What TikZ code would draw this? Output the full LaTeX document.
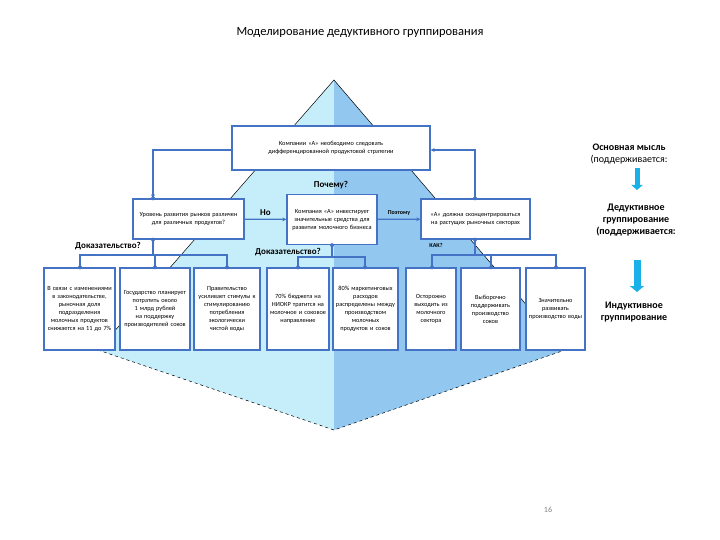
\documentclass[tikz,border=0pt]{standalone}
\usepackage{fontspec}
\setmainfont{Carlito}
\usetikzlibrary{arrows.meta}
\definecolor{ln}{HTML}{4472C4}
\definecolor{lface}{HTML}{C6EEFA}
\definecolor{rface}{HTML}{92C8F0}
\definecolor{arr}{HTML}{1AB0E8}
\begin{document}
\begin{tikzpicture}[x=1pt,y=-1pt,
  bx/.style={draw=ln,line width=1.3pt,fill=white,align=center,inner sep=1pt,font=\fontsize{6.3}{8}\selectfont},
  cn/.style={ln,line width=1.3pt},
  ar/.style={cn,-{Stealth[length=4pt,width=4pt]}},
  dt/.style={circle,fill=ln,inner sep=0pt,minimum size=3.5pt},
  lb/.style={black,font=\bfseries\fontsize{9}{10}\selectfont},
  rt/.style={font=\bfseries\fontsize{10}{12}\selectfont,align=center}]
\useasboundingbox (0,0) rectangle (720,540);
% octahedron
\fill[lface] (334,80) -- (98,350) -- (334,430) -- cycle;
\fill[rface] (334,80) -- (565,350) -- (334,430) -- cycle;
\draw[black,line width=0.5pt] (98,350) -- (334,80) -- (565,350);
\draw[black,line width=0.5pt,dashed] (98,350) -- (334,430) -- (565,350);
\node[font=\fontsize{12.5}{14}\selectfont] (title) at (360,33) {Моделирование дедуктивного группирования};
% boxes
\node[bx,minimum width=198pt,minimum height=44pt,text width=170pt] (top) at (331,148) {Компании «А» необходимо следовать дифференцированной продуктовой стратегии};
\node[bx,minimum width=111pt,minimum height=40pt,text width=104pt] (ml) at (188.5,219) {Уровень развития рынков различен для различных продуктов?};
\node[bx,minimum width=90pt,minimum height=50pt,text width=86pt] (mc) at (332,219.5) {Компания «А» инвестирует значительные средства для развития молочного бизнеса};
\node[bx,minimum width=109pt,minimum height=40pt,text width=104pt] (mr) at (475.5,219) {«А» должна сконцентрироваться на растущих рыночных секторах};
\foreach \n/\a/\b/\t in {
 b1/44/115/{В связи с изменениями в законодательстве, рыночная доля подразделения молочных продуктов снижается на 11 до 7\%},
 b2/120/190/{Государство планирует потратить около 1 млрд рублей на поддержку производителей соков},
 b3/194/260/{Правительство усиливает стимулы к стимулированию потребления экологически чистой воды},
 b4/267/329/{70\% бюджета на НИОКР тратится на молочное и соковое направление},
 b5/333/398/{80\% маркетинговых расходов распределены между производством молочных продуктов и соков},
 b6/406/456/{Осторожно выходить из молочного сектора},
 b7/461/520/{Выборочно поддерживать производство соков},
 b8/526/585/{Значительно развивать производство воды}}
 \node[bx,minimum width=\b pt-\a pt,minimum height=82pt,text width=\b pt-\a pt-5pt] (\n) at ({(\a+\b)/2},309) {\t};
% connectors
\draw[ar] (top.west |- 0,150) -| (ml.north -| 153,0);
\draw[ar] (mr.north -| 475,0) |- (top.east |- 0,150);
\draw[ar] (ml) -- node[lb,above]{Но} (mc);
\draw[ar] (mc) -- node[above,black,font=\bfseries\fontsize{6}{7}\selectfont]{Поэтому} (mr);
\node[lb] (why) at (331,185) {Почему?};
\node[lb] (pr1) at (108,246) {Доказательство?};
\node[lb] (pr2) at (288,252) {Доказательство?};
\node[font=\bfseries\fontsize{6}{7}\selectfont] (how) at (436,245) {КАК?};
\coordinate (j1) at (153,255);
\coordinate (j2) at (332,257);
\coordinate (j3) at (475,255);
\draw[cn] (ml.south -| j1) -- (j1);
\draw[cn] (mc.south -| j2) -- (j2);
\draw[cn] (mr.south -| j3) -- (j3);
\draw[cn] (b1.north -| 80,0) |- (j1) -| (b3.north -| 227,0);
\draw[cn] (j1) -| (b2.north -| 155,0);
\draw[cn] (b4.north -| 298,0) |- (j2) -| (b5.north -| 365,0);
\draw[cn] (b6.north -| 432,0) |- (j3) -| (b8.north -| 556,0);
\draw[cn] (j3) -| (b7.north -| 491,0);
\fill[ln] (ml.north -| j1) circle (2pt) (ml.south -| j1) circle (2pt)
 (mc.south -| j2) circle (2pt) (mr.south -| j3) circle (2pt) (mr.north -| j3) circle (2pt)
 (b1.north -| 80,0) circle (2pt) (b2.north -| 155,0) circle (2pt) (b3.north -| 227,0) circle (2pt)
 (b4.north -| 298,0) circle (2pt) (b5.north -| 365,0) circle (2pt) (b6.north -| 432,0) circle (2pt)
 (b7.north -| 491,0) circle (2pt) (b8.north -| 556,0) circle (2pt);
% right legend
\node[rt] (l1) at (629,154) {Основная мысль\\\normalfont(поддерживается:};
\draw[arr,line width=5pt,-{Triangle[length=5pt,width=11pt]}] (637,168) -- (637,190);
\node[rt] (l2) at (636,220) {Дедуктивное\\группирование\\(поддерживается:};
\draw[arr,line width=7pt,-{Triangle[length=6pt,width=14pt]}] (637,260) -- (637,292);
\node[rt] (l3) at (634,312) {Индуктивное\\группирование};
\node[font=\fontsize{8}{9}\selectfont,gray] (pg) at (548,510) {16};
\end{tikzpicture}
\end{document}
